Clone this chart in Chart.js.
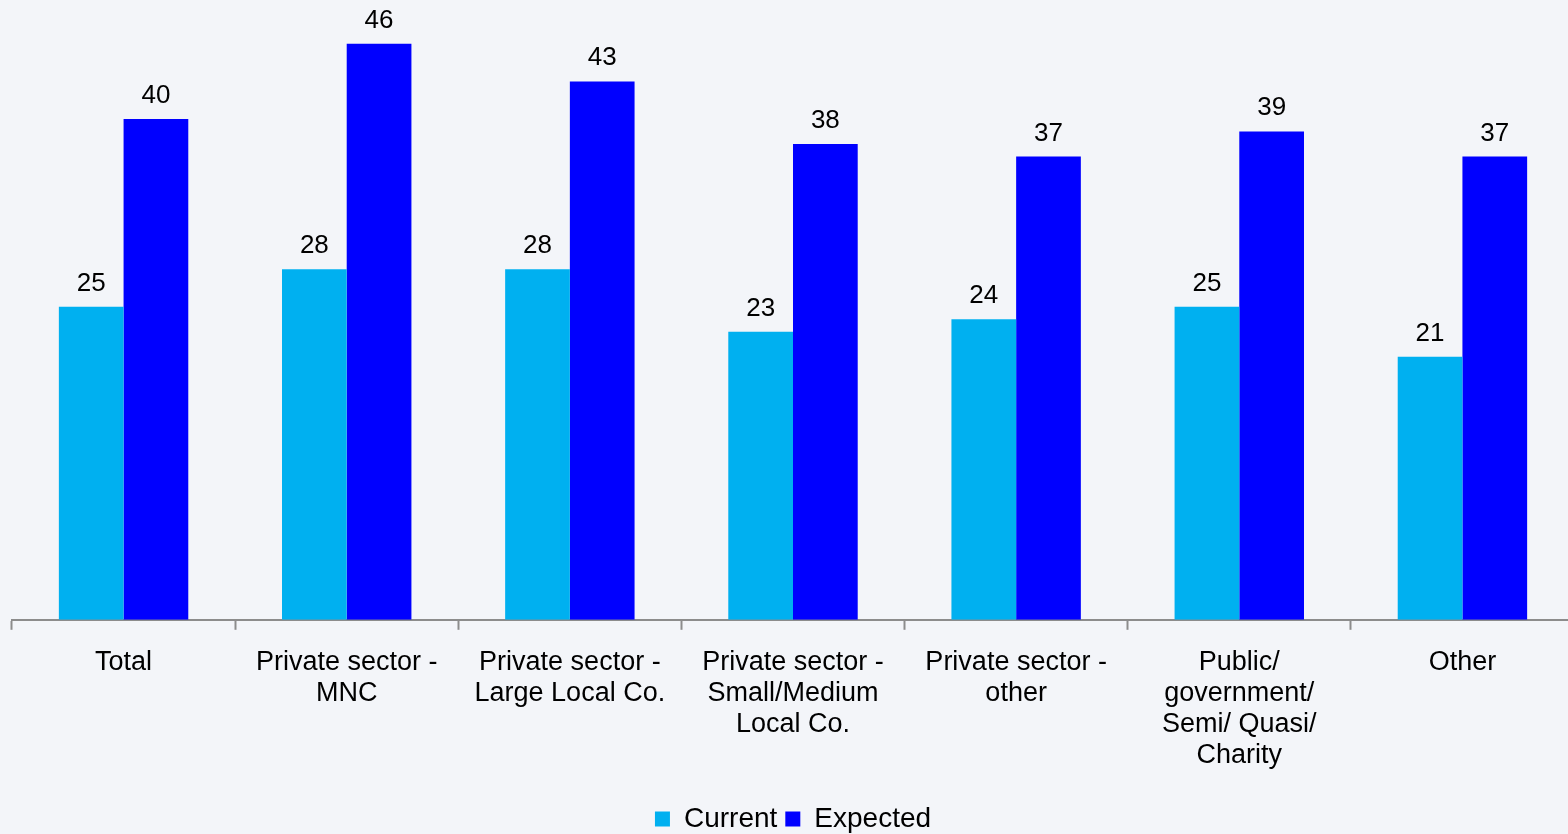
<!DOCTYPE html>
<html>
<head>
<meta charset="utf-8">
<script src="https://cdn.jsdelivr.net/npm/chart.js@4.4.1/dist/chart.umd.min.js"></script>
<style>
    html, body {
        margin: 0;
        padding: 0;
        overflow: hidden;
        background: #f3f5f9;
    }
    #wrap {
        position: relative;
        width: 1574px;
        height: 843px;
    }
</style>
</head>
<body>
<div id="wrap"><canvas id="myChart"></canvas></div>
<script>
const categories = [
    'Total',
    ['Private sector -', 'MNC'],
    ['Private sector -', 'Large Local Co.'],
    ['Private sector -', 'Small/Medium', 'Local Co.'],
    ['Private sector -', 'other'],
    ['Public/', 'government/', 'Semi/ Quasi/', 'Charity'],
    'Other'
];
const currentValues = [25, 28, 28, 23, 24, 25, 21];
const expectedValues = [40, 46, 43, 38, 37, 39, 37];

const fontFamily = '"Liberation Sans", Arial, sans-serif';

// writes each bar's value just above it
const valueLabels = {
    id: 'valueLabels',
    afterDatasetsDraw(chart) {
        const ctx = chart.ctx;
        ctx.save();
        ctx.font = '26px ' + fontFamily;
        ctx.fillStyle = '#000';
        ctx.textAlign = 'center';
        ctx.textBaseline = 'alphabetic';
        chart.data.datasets.forEach((ds, i) => {
            chart.getDatasetMeta(i).data.forEach((bar, j) => {
                ctx.fillText(ds.data[j], bar.x, bar.y - 16);
            });
        });
        ctx.restore();
    }
};

const ctx = document.getElementById('myChart').getContext('2d');
new Chart(ctx, {
    type: 'bar',
    data: {
        labels: categories,
        datasets: [
            {
                label: 'Current',
                data: currentValues,
                backgroundColor: '#00b0f0',
                categoryPercentage: 0.58,
                barPercentage: 1.0
            },
            {
                label: 'Expected',
                data: expectedValues,
                backgroundColor: '#0000ff',
                categoryPercentage: 0.58,
                barPercentage: 1.0
            }
        ]
    },
    options: {
        responsive: true,
        maintainAspectRatio: false,
        animation: false,
        layout: {
            padding: { left: 12, right: 0, top: 0, bottom: 0 }
        },
        scales: {
            x: {
                // extra room under the category names before the legend
                afterFit: (scale) => { scale.height += 9; },
                grid: {
                    display: true,
                    drawOnChartArea: false,
                    drawTicks: true,
                    tickLength: 10,
                    tickWidth: 2,
                    tickColor: '#8c8c8c',
                    offset: true
                },
                border: {
                    display: true,
                    color: '#8c8c8c',
                    width: 2
                },
                ticks: {
                    color: '#000',
                    padding: 17,
                    maxRotation: 0,
                    autoSkip: false,
                    font: { family: fontFamily, size: 27, lineHeight: 1.15 }
                }
            },
            y: {
                display: false,
                min: 0,
                max: 49.5
            }
        },
        plugins: {
            legend: {
                display: true,
                position: 'bottom',
                labels: {
                    color: '#000',
                    boxWidth: 15,
                    boxHeight: 15,
                    padding: 8,
                    font: { family: fontFamily, size: 28 }
                }
            },
            tooltip: { enabled: false }
        }
    },
    plugins: [valueLabels]
});
</script>
</body>
</html>
